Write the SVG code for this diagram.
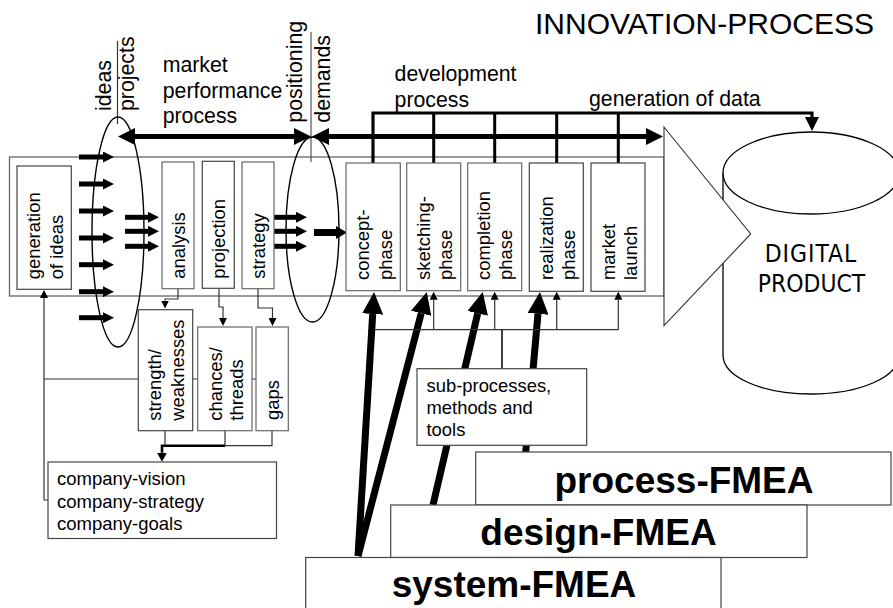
<svg xmlns="http://www.w3.org/2000/svg" width="893" height="608" viewBox="0 0 893 608">
<style>
text{font-family:"Liberation Sans",Arial,sans-serif;fill:#000}
.l{font-size:21.3px}.s{font-size:18.4px}.c{font-size:18.5px}
.b{font-size:37px;font-weight:bold;text-anchor:middle;fill:#000}
.dp{font-family:"DejaVu Sans Condensed","DejaVu Sans",sans-serif;font-size:24.4px;text-anchor:middle}
.box{fill:#fff;stroke:#444;stroke-width:1.2}
.g{stroke:#666}
.nf{fill:none;stroke:#000;stroke-width:1.4}
.thin{fill:none;stroke:#333;stroke-width:1.2}
.sm{stroke:#000;stroke-width:5;fill:none;marker-end:url(#hs)}
.db{stroke:#000;stroke-width:5;fill:none;marker-start:url(#hd);marker-end:url(#hd)}
.v{stroke:#000;stroke-width:3;fill:none}
.fat{stroke:#000;stroke-width:7;fill:none;marker-end:url(#hf)}
.ta{marker-end:url(#ht)}
</style>
<defs>
<marker id="hs" markerUnits="userSpaceOnUse" markerWidth="11" markerHeight="11" refX="0" refY="5.5" orient="auto"><path d="M0 0L11 5.5L0 11z"/></marker>
<marker id="hb" markerUnits="userSpaceOnUse" markerWidth="11" markerHeight="13" refX="0" refY="6.5" orient="auto"><path d="M0 0L11 6.5L0 13z"/></marker>
<marker id="hd" markerUnits="userSpaceOnUse" markerWidth="17" markerHeight="17" refX="0" refY="8.5" orient="auto-start-reverse"><path d="M0 0L17 8.5L0 17z"/></marker>
<marker id="hf" markerUnits="userSpaceOnUse" markerWidth="22" markerHeight="21" refX="0" refY="10.5" orient="auto"><path d="M0 0L22 10.5L0 21z"/></marker>
<marker id="ht" markerUnits="userSpaceOnUse" markerWidth="8" markerHeight="8" refX="0" refY="4" orient="auto"><path d="M0 0L8 4L0 8z"/></marker>
<marker id="hm" markerUnits="userSpaceOnUse" markerWidth="14" markerHeight="14" refX="0" refY="7" orient="auto"><path d="M0 0L14 7L0 14z"/></marker>
<marker id="hc" markerUnits="userSpaceOnUse" markerWidth="9" markerHeight="10" refX="0" refY="5" orient="auto"><path d="M0 0L9 5L0 10z"/></marker>
</defs>

<g id="digital-product">
<path d="M723 173V355C723 377 762 394 811 394S899 377 899 355V173" fill="#fff" stroke="#000" stroke-width="1.3"/>
<ellipse cx="811" cy="173" rx="88" ry="41" fill="#fff" stroke="#000" stroke-width="1.3"/>
<text class="dp" x="811" y="262.3" letter-spacing="1">DIGITAL</text>
<text class="dp" x="811.5" y="292.3">PRODUCT</text>
</g>

<g id="process-band">
<rect x="9.5" y="157" width="654.5" height="139" fill="#fff" stroke="#666" stroke-width="1.3"/>
<path d="M664 127L750.7 234L664 325.7Z" fill="#fff" stroke="#333" stroke-width="1.1"/>
</g>

<g id="connectors">
<line x1="358" y1="556" x2="372.7" y2="314" class="fat"/>
<line x1="358" y1="556" x2="421.2" y2="313.3" class="fat"/>
<line x1="433" y1="505" x2="477.7" y2="313.4" class="fat"/>
<line x1="525.7" y1="452" x2="538" y2="313.9" class="fat"/>
<path d="M375 329.7H618.3" class="thin"/>
<path d="M502 329.7V369" fill="none" stroke="#000" stroke-width="1.5"/>
<path d="M433.7 329.7V299.7" class="thin ta"/>
<path d="M494.7 329.7V299.7" class="thin ta"/>
<path d="M556.7 329.7V299.7" class="thin ta"/>
<path d="M618.3 329.7V299.7" class="thin ta"/>
<path d="M256 379H44V500H48" class="thin"/>
<path d="M44 379V298" class="thin ta"/>
<path d="M178 289V299H165V300.5" class="thin ta"/>
<path d="M219 289V307H223V318" class="thin ta"/>
<path d="M258 289V308H272.5V318" class="thin ta"/>
<path d="M165 430V445.7M225 430V445.7M272 430V445.7H165" class="thin"/>
<path d="M225 445.7H162V452.7" fill="none" stroke="#000" stroke-width="2.6" marker-end="url(#hc)"/>
<path d="M373 163V113H812V117" fill="none" stroke="#000" stroke-width="3.2" marker-end="url(#hm)"/>
<path d="M433.7 113V163M494.7 113V163M556.7 113V163M618.3 113V163" class="v"/>
<line x1="135" y1="136.5" x2="294" y2="136.5" class="db"/>
<line x1="329" y1="136.5" x2="646" y2="136.5" class="db"/>
<path d="M117.5 41V124" class="thin"/>
<path d="M311 32V162" fill="none" stroke="#555" stroke-width="1.2"/>
<ellipse cx="118" cy="232" rx="26" ry="115" class="nf"/>
<ellipse cx="312.5" cy="229.5" rx="26.5" ry="92.5" class="nf"/>
<path d="M79 157H103" class="sm"/>
<path d="M79 184H103" class="sm"/>
<path d="M79 211H103" class="sm"/>
<path d="M79 238H103" class="sm"/>
<path d="M79 264.7H103" class="sm"/>
<path d="M79 291.7H103" class="sm"/>
<path d="M79 317.7H103" class="sm"/>
<path d="M125 217.3H148" class="sm"/>
<path d="M125 231.3H148" class="sm"/>
<path d="M125 246.3H148" class="sm"/>
<path d="M274 217.3H296" class="sm"/>
<path d="M274 231.3H296" class="sm"/>
<path d="M274 246.3H296" class="sm"/>
<path d="M314 232.5H336" stroke="#000" stroke-width="7" fill="none" marker-end="url(#hb)"/>
</g>

<g id="generation-of-ideas"><rect class="box" x="17" y="166" width="54.3" height="123.3"/>
<text class="s" transform="translate(40,279.3) rotate(-90)">generation</text>
<text class="s" transform="translate(62.5,279.3) rotate(-90)">of ideas</text></g>
<g id="analysis"><rect class="box g" x="162" y="162" width="32" height="126.7"/>
<text class="s" transform="translate(185,278.7) rotate(-90)">analysis</text></g>
<g id="projection"><rect class="box" x="202.3" y="161.3" width="32" height="127"/>
<text class="s" transform="translate(225,278.7) rotate(-90)">projection</text></g>
<g id="strategy"><rect class="box g" x="242" y="162" width="32" height="126.7"/>
<text class="s" transform="translate(265,278.7) rotate(-90)">strategy</text></g>

<g id="concept-phase"><rect class="box g" x="346" y="163" width="54.3" height="127.7"/>
<text class="s" transform="translate(369.3,280) rotate(-90)">concept-</text>
<text class="s" transform="translate(391.5,280) rotate(-90)">phase</text></g>
<g id="sketching-phase"><rect class="box g" x="406.7" y="163" width="54" height="127.7"/>
<text class="s" transform="translate(430,280) rotate(-90)">sketching-</text>
<text class="s" transform="translate(452,280) rotate(-90)">phase</text></g>
<g id="completion-phase"><rect class="box g" x="467.7" y="163" width="54" height="127.7"/>
<text class="s" transform="translate(490,280) rotate(-90)">completion</text>
<text class="s" transform="translate(512,280) rotate(-90)">phase</text></g>
<g id="realization-phase"><rect class="box" x="529.3" y="163" width="54" height="128.3"/>
<text class="s" transform="translate(552.7,280) rotate(-90)">realization</text>
<text class="s" transform="translate(575,280) rotate(-90)">phase</text></g>
<g id="market-launch"><rect class="box" x="591" y="163" width="54" height="128.3"/>
<text class="s" transform="translate(614.5,280) rotate(-90)">market</text>
<text class="s" transform="translate(636.7,280) rotate(-90)">launch</text></g>

<g id="strength-weaknesses"><rect class="box" x="138.3" y="309.7" width="54.4" height="121"/>
<text class="s" transform="translate(161,420.7) rotate(-90)">strength/</text>
<text class="s" transform="translate(184.3,420.7) rotate(-90)">weaknesses</text></g>
<g id="chances-threads"><rect class="box g" x="197.7" y="327" width="54.3" height="103.7"/>
<text class="s" transform="translate(221.7,420.7) rotate(-90)">chances/</text>
<text class="s" transform="translate(243.3,420.7) rotate(-90)">threads</text></g>
<g id="gaps"><rect class="box g" x="256" y="327" width="32.3" height="103.7"/>
<text class="s" transform="translate(279.3,420) rotate(-90)">gaps</text></g>

<g id="company"><rect class="box" x="48" y="462" width="228.5" height="76.5"/>
<text class="c" x="57" y="485">company-vision</text>
<text class="c" x="57" y="507.5">company-strategy</text>
<text class="c" x="57" y="530">company-goals</text></g>

<g id="sub-processes"><rect class="box" x="417" y="368.7" width="169.7" height="76.6"/>
<text class="s" x="426.5" y="391.7">sub-processes,</text>
<text class="s" x="426.5" y="413.5">methods and</text>
<text class="s" x="426.5" y="436">tools</text></g>

<g id="process-fmea"><rect class="box" x="475.7" y="452" width="415.3" height="53"/>
<text class="b" x="684" y="493">process-FMEA</text></g>
<g id="design-fmea"><rect class="box" x="390.7" y="505" width="416.3" height="52.5"/>
<text class="b" x="598.5" y="545">design-FMEA</text></g>
<g id="system-fmea"><rect class="box" x="305.7" y="557.5" width="415.3" height="60"/>
<text class="b" x="514" y="597">system-FMEA</text></g>

<g id="labels">
<text x="535" y="33.5" style="font-size:30px">INNOVATION-PROCESS</text>
<text class="l" transform="translate(110.7,111) rotate(-90)">ideas</text>
<text class="l" transform="translate(134,111) rotate(-90)">projects</text>
<text class="l" transform="translate(301.7,122.7) rotate(-90)">positioning</text>
<text class="l" transform="translate(330,122.7) rotate(-90)">demands</text>
<text class="l" x="162.7" y="71.7">market</text>
<text class="l" x="162.7" y="97.7">performance</text>
<text class="l" x="162.7" y="123.3">process</text>
<text class="l" x="394.6" y="81">development</text>
<text class="l" x="394.6" y="107">process</text>
<text class="l" x="589" y="105.6">generation of data</text>
</g>
</svg>
